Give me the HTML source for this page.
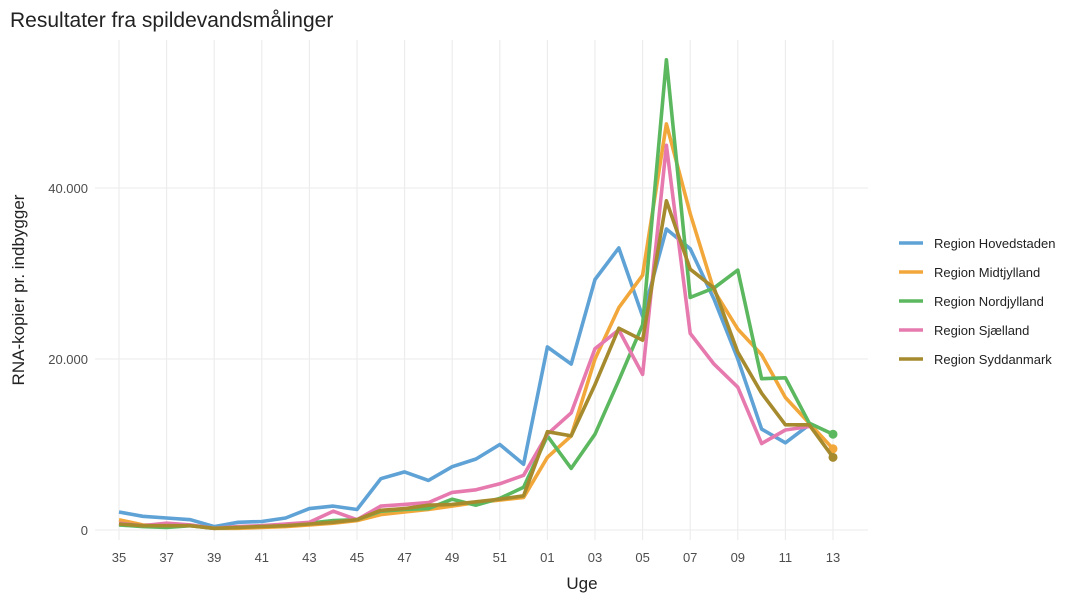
<!DOCTYPE html>
<html><head><meta charset="utf-8"><style>
body{margin:0;background:#fff;font-family:"Liberation Sans",sans-serif;}
</style></head><body>
<svg id="chart" width="1088" height="605" xmlns="http://www.w3.org/2000/svg" font-family="Liberation Sans, sans-serif">
<text x="10" y="27" font-size="21" fill="#222">Resultater fra spildevandsmålinger</text>
<g id="grid"></g><g id="series"></g><g id="axes"></g><g id="legend"></g>
<text x="582" y="589" font-size="17" text-anchor="middle" fill="#222">Uge</text>
<text transform="translate(24,290) rotate(-90)" font-size="17" text-anchor="middle" fill="#222">RNA-kopier pr. indbygger</text>
</svg>
<script>
const weeks=["35","36","37","38","39","40","41","42","43","44","45","46","47","48","49","50","51","52","01","02","03","04","05","06","07","08","09","10","11","12","13"];
const seriesNames=["Region Hovedstaden","Region Midtjylland","Region Nordjylland","Region Sjælland","Region Syddanmark"];
const colors=["#5fa2d6","#f2a73a","#5cb85f","#e67aaf","#a68a2e"];
const hoved=[2100,1600,1400,1200,400,900,1000,1400,2500,2800,2400,6000,6800,5800,7400,8300,10000,7700,21400,19400,29300,33000,25000,35200,32900,27000,20000,11800,10200,12300,null];
const midt=[1200,600,500,500,200,200,300,400,600,800,1100,1800,2100,2400,2800,3200,3500,3800,8500,11000,20000,26000,29800,47500,37000,28000,23500,20500,15500,12500,9500];
const nord=[600,400,300,500,200,300,500,600,800,1100,1200,2200,2400,2500,3600,2900,3700,5000,11000,7200,11200,17500,24000,55000,27200,28300,30400,17700,17800,12500,11200];
const sjael=[800,500,800,600,200,400,500,700,900,2200,1200,2800,3000,3200,4400,4700,5400,6400,11200,13700,21200,23400,18200,45000,23000,19400,16700,10100,11700,12100,null];
const syd=[700,500,500,500,200,300,400,500,700,900,1200,2300,2500,2900,3000,3300,3600,4000,11500,11000,17000,23600,22200,38500,30500,28300,20800,16000,12300,12300,8500];
const yTicks=[0,20000,40000];
const yTickLabels=["0","20.000","40.000"];
const allSeries=[hoved,midt,nord,sjael,syd];
const NS="http://www.w3.org/2000/svg";
const x=i=>119+i*(833-119)/30;
const y=v=>530-v*(530-188)/40000;
function mk(t,a,p){const e=document.createElementNS(NS,t);for(const k in a)e.setAttribute(k,a[k]);p.appendChild(e);return e;}
const grid=document.getElementById('grid'),axes=document.getElementById('axes'),ser=document.getElementById('series'),leg=document.getElementById('legend');
yTicks.forEach((v,i)=>{const l=mk('line',{x1:95,x2:868,y1:y(v),y2:y(v),stroke:'#ebebeb','stroke-width':1.1},grid);

const t=mk('text',{x:88,y:y(v)+5,'font-size':13,'text-anchor':'end',fill:'#4d4d4d'},axes);t.textContent=yTickLabels[i];
});
weeks.forEach((w,i)=>{if(i%2)return;const l=mk('line',{x1:x(i),x2:x(i),y1:40,y2:540,stroke:'#ebebeb','stroke-width':1.1},grid);

const t=mk('text',{x:x(i),y:562,'font-size':13,'text-anchor':'middle',fill:'#4d4d4d'},axes);t.textContent=w;
});
allSeries.forEach((s,k)=>{let d='';let last=-1;s.forEach((v,i)=>{if(v==null)return;d+=(d?'L':'M')+x(i).toFixed(1)+','+y(v).toFixed(1);last=i;});
const p=mk('path',{d:d,fill:'none',stroke:colors[k],'stroke-width':3.6,'stroke-linejoin':'round'},ser);

if(last===30){const c=mk('circle',{cx:x(last),cy:y(s[last]),r:4.5,fill:colors[k]},ser);
}
const ly=243+k*29;const l=mk('line',{x1:899,x2:923,y1:ly,y2:ly,stroke:colors[k],'stroke-width':3.6},leg);

const t=mk('text',{x:934,y:ly+5,'font-size':13,fill:'#222'},leg);t.textContent=seriesNames[k];
});
</script>
</body></html>
